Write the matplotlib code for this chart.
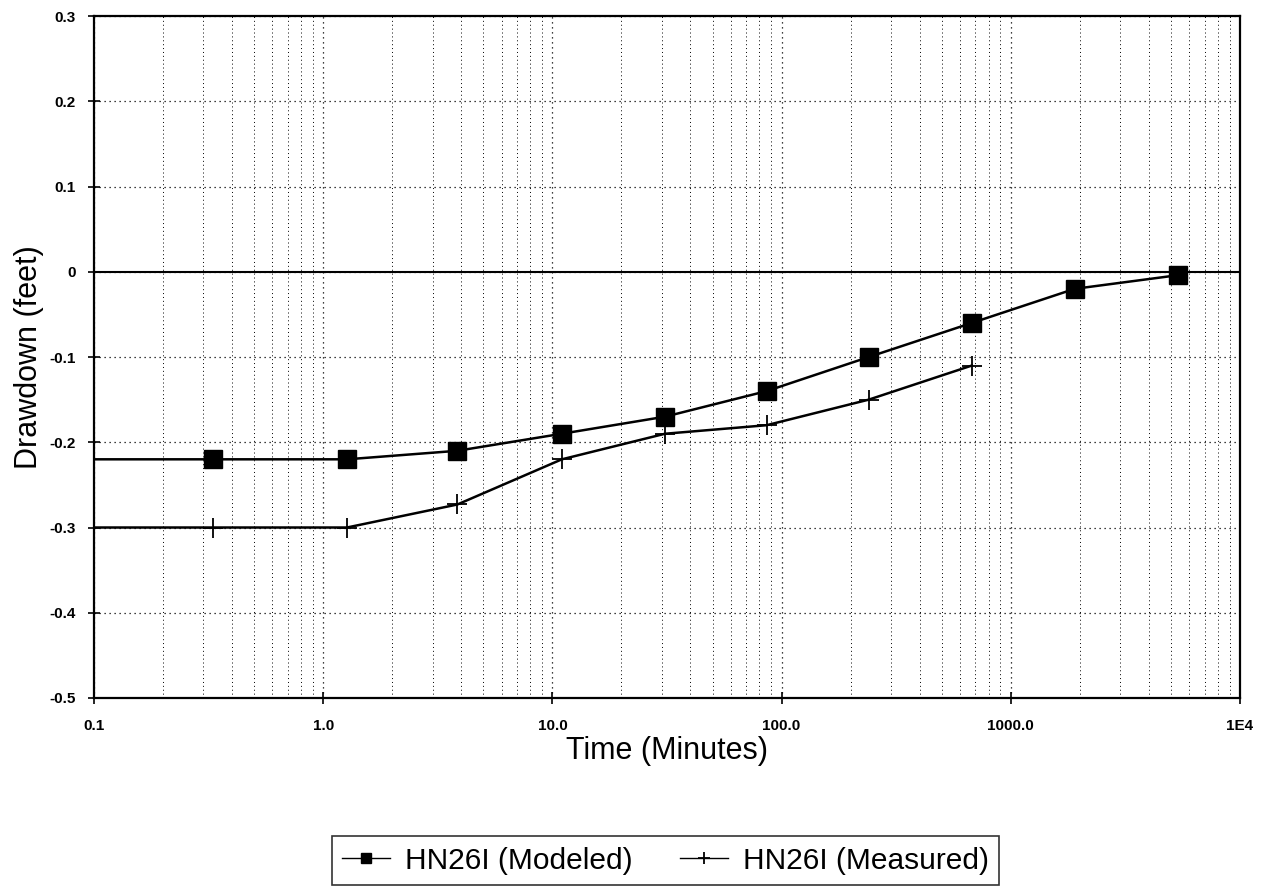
import matplotlib
matplotlib.use('Agg')
import matplotlib.pyplot as plt
from matplotlib.ticker import FixedLocator, LogLocator, NullFormatter

plt.rcParams['font.family'] = ['Liberation Sans', 'DejaVu Sans']

# modeled drawdown (first point is the left edge of the axis, no marker shown there)
t_mod = [0.1, 0.33, 1.27, 3.85, 11.0, 31.0, 86.0, 240.0, 676.0, 1900.0, 5360.0]
dd_mod = [-0.22, -0.22, -0.22, -0.21, -0.19, -0.17, -0.14, -0.10, -0.06, -0.02, -0.004]

# measured drawdown
t_meas = [0.1, 0.33, 1.27, 3.85, 11.0, 31.0, 86.0, 240.0, 676.0]
dd_meas = [-0.30, -0.30, -0.30, -0.273, -0.22, -0.19, -0.18, -0.15, -0.11]

x_ticks = [0.1, 1.0, 10.0, 100.0, 1000.0, 10000.0]
x_labels = ['0.1', '1.0', '10.0', '100.0', '1000.0', '1E4']
y_ticks = [0.3, 0.2, 0.1, 0, -0.1, -0.2, -0.3, -0.4, -0.5]
y_labels = ['0.3', '0.2', '0.1', '0', '-0.1', '-0.2', '-0.3', '-0.4', '-0.5']

fig = plt.figure(figsize=(12.63, 8.92), dpi=100)
ax = fig.add_axes([0.0744, 0.2175, 0.9074, 0.7645])

ax.plot(t_mod, dd_mod, color='black', lw=1.8, marker='s', ms=13,
        markevery=slice(1, None), label='HN26I (Modeled)', zorder=3)
ax.plot(t_meas, dd_meas, color='black', lw=1.8, marker='+', ms=14, mew=1.3,
        markevery=slice(1, None), label='HN26I (Measured)', zorder=3)

ax.axhline(0, color='black', lw=1.5, zorder=2)

ax.set_xscale('log')
ax.set_xlim(0.1, 10000)
ax.set_ylim(-0.5, 0.3)

ax.xaxis.set_major_locator(FixedLocator(x_ticks))
ax.set_xticklabels(x_labels)
ax.xaxis.set_minor_locator(LogLocator(base=10, subs=range(2, 10)))
ax.xaxis.set_minor_formatter(NullFormatter())
ax.set_yticks(y_ticks)
ax.set_yticklabels(y_labels)

ax.grid(True, which='major', axis='both', color='black', ls=(0, (1, 3)), lw=0.9)
ax.grid(True, which='minor', axis='x', color='black', ls=(0, (1, 3)), lw=0.7)

ax.tick_params(axis='both', which='major', labelsize=11, direction='inout', length=8, width=1.2)
ax.tick_params(axis='x', which='major', pad=11)
ax.tick_params(axis='y', which='major', pad=9)
ax.tick_params(axis='x', which='minor', length=0)
for lab in ax.get_xticklabels() + ax.get_yticklabels():
    lab.set_fontweight('bold')

for sp in ax.spines.values():
    sp.set_linewidth(1.6)

ax.set_xlabel('Time (Minutes)', fontsize=22, labelpad=2)
ax.set_ylabel('Drawdown (feet)', fontsize=22, labelpad=4)

leg = fig.legend(loc='center', bbox_to_anchor=(0.527, 0.035), ncol=2, fontsize=21.5,
                 frameon=True, fancybox=False, edgecolor='black', handlelength=1.6,
                 markerscale=0.6, columnspacing=1.6, borderpad=0.35, handletextpad=0.5)
leg.get_frame().set_linewidth(1.2)
for h in leg.get_lines():
    h.set_linewidth(1.0)

fig.savefig('out.png', dpi=100, facecolor='white')
